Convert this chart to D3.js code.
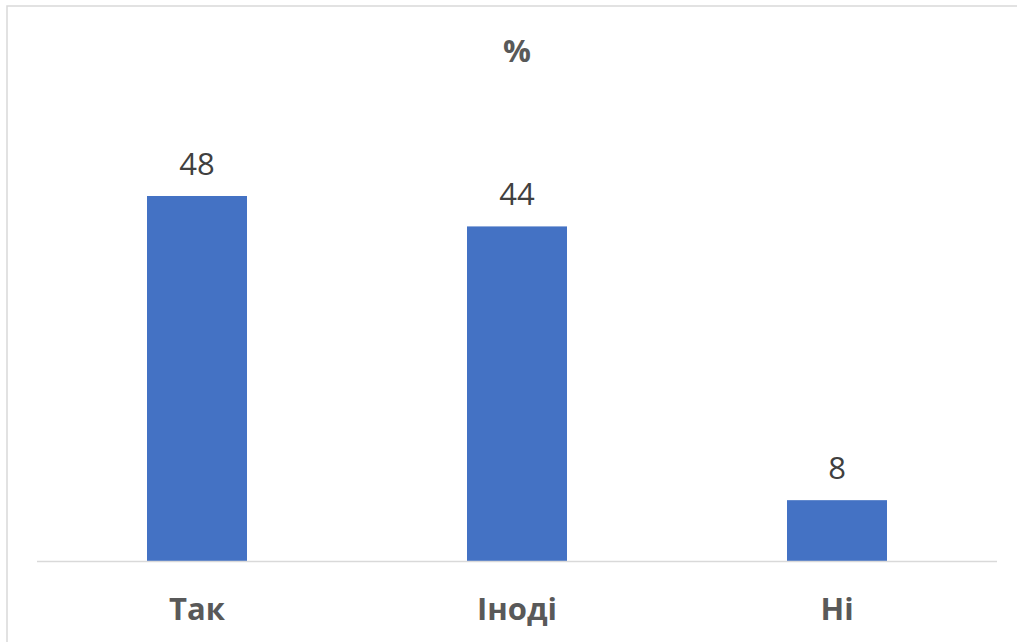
<!DOCTYPE html>
<html>
<head>
<meta charset="utf-8">
<script src="https://cdn.jsdelivr.net/npm/d3@7"></script>
<style>
  body { margin: 0; background: #fff; }
  svg { display: block; }
</style>
</head>
<body>
<script>
var categories = ['Так', 'Іноді', 'Ні'];
var values = [48, 44, 8];
var title = '%';

var width = 1017, height = 642;
var font = '"Open Sans", "Liberation Sans", sans-serif';

var svg = d3.select('body')
  .append('svg')
  .attr('width', width)
  .attr('height', height);

// chart area frame
svg.append('rect')
  .attr('x', 7)
  .attr('y', 6)
  .attr('width', 1020)
  .attr('height', 650)
  .attr('fill', '#fff')
  .attr('stroke', '#d9d9d9')
  .attr('stroke-width', 1.5);

var x = d3.scaleBand()
  .domain(categories)
  .range([37, 997])
  .paddingInner(0.6875)
  .paddingOuter(0.34375);

var y = d3.scaleLinear()
  .domain([0, 60])
  .range([561, 104.75]);

svg.selectAll('rect.bar')
  .data(values)
  .enter()
  .append('rect')
  .attr('class', 'bar')
  .attr('x', (d, i) => x(categories[i]))
  .attr('y', d => y(d))
  .attr('width', x.bandwidth())
  .attr('height', d => y(0) - y(d))
  .attr('fill', '#4472c4');

// baseline
svg.append('line')
  .attr('x1', 37)
  .attr('x2', 997)
  .attr('y1', y(0) + 0.5)
  .attr('y2', y(0) + 0.5)
  .attr('stroke', '#d9d9d9')
  .attr('stroke-width', 1.5);

svg.selectAll('text.value')
  .data(values)
  .enter()
  .append('text')
  .attr('class', 'value')
  .attr('x', (d, i) => x(categories[i]) + x.bandwidth() / 2)
  .attr('y', d => y(d) - 21)
  .attr('text-anchor', 'middle')
  .style('font-family', font)
  .style('font-size', '31px')
  .style('fill', '#404040')
  .text(d => d);

svg.selectAll('text.cat')
  .data(categories)
  .enter()
  .append('text')
  .attr('class', 'cat')
  .attr('x', d => x(d) + x.bandwidth() / 2)
  .attr('y', 620)
  .attr('text-anchor', 'middle')
  .style('font-family', font)
  .style('font-size', '31px')
  .style('font-weight', 'bold')
  .style('fill', '#595959')
  .text(d => d);

svg.append('text')
  .attr('x', 517)
  .attr('y', 62)
  .attr('text-anchor', 'middle')
  .style('font-family', font)
  .style('font-size', '31px')
  .style('font-weight', 'bold')
  .style('fill', '#595959')
  .text(title);
</script>
</body>
</html>
